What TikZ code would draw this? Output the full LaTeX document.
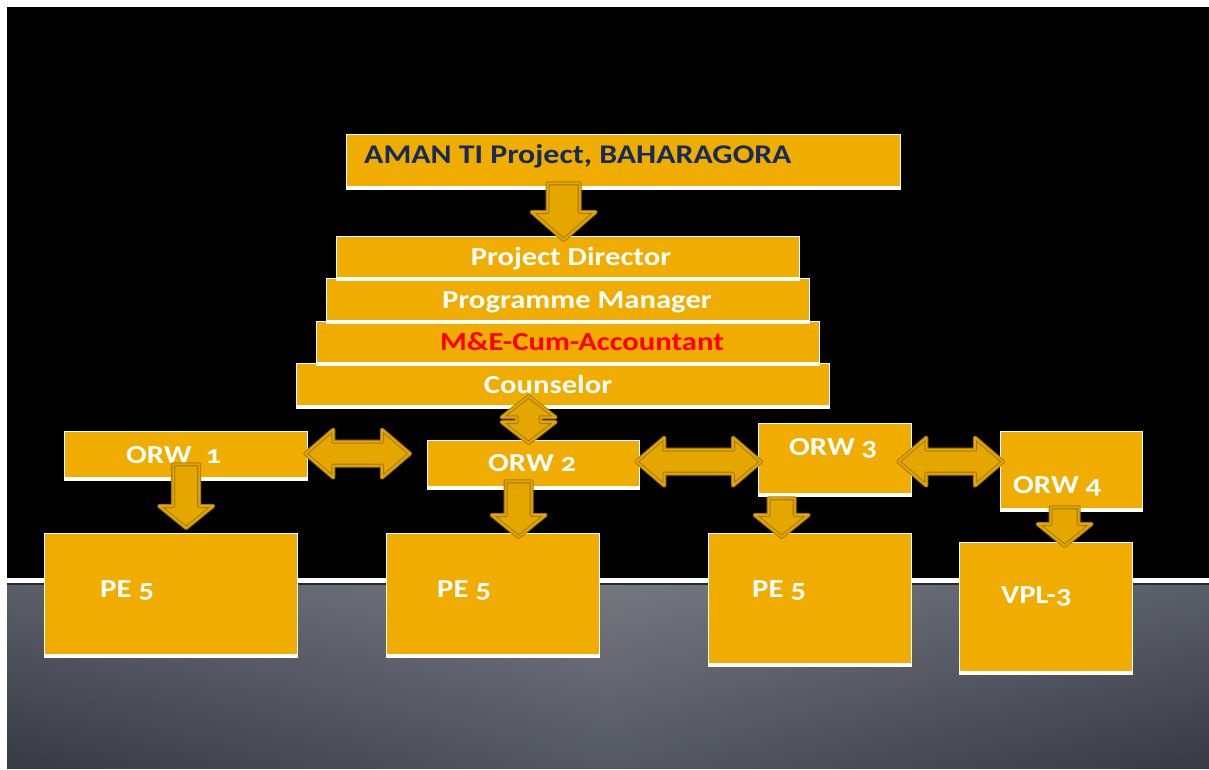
\documentclass[tikz,border=0pt]{standalone}
\usepackage{fontspec}
\setmainfont{Carlito}[FakeStretch=1.18, Numbers=OldStyle]
\usetikzlibrary{calc}
\definecolor{boxgold}{HTML}{F0AD00}
\definecolor{arrfill}{HTML}{E6A600}
\definecolor{arrline}{HTML}{A87E00}
\definecolor{navy}{HTML}{142B5C}
\definecolor{mered}{HTML}{FF0000}
\definecolor{gtm}{HTML}{74777F}
\definecolor{gte}{HTML}{5A5E69}
\definecolor{gbm}{HTML}{545864}
\definecolor{gbe}{HTML}{373A45}
\tikzset{
  box/.style={fill=boxgold, draw=white, line width=1.3pt, inner sep=0pt, anchor=north west},
  lbl/.style={font=\fontsize{26}{30}\selectfont\bfseries, text=white, inner sep=0pt},
  blockarrow/.style={fill=arrfill, draw=arrline, line width=1.1pt, double=arrfill, double distance=1.8pt, line join=round},
}
% down arrow: #1 top centre, #2 tip, #3 shaft half width, #4 head half width, #5 head length
\newcommand\blkdown[5]{%
  \draw[blockarrow] let \p1=#1, \p2=#2 in
  (\x1-#3,\y1) -- (\x1+#3,\y1) -- (\x1+#3,\y2+#5) -- (\x1+#4,\y2+#5) -- (\x1,\y2)
  -- (\x1-#4,\y2+#5) -- (\x1-#3,\y2+#5) -- cycle;}
% horizontal double arrow: #1 left tip, #2 right tip
\newcommand\blkhdouble[5]{%
  \draw[blockarrow] let \p1=#1, \p2=#2 in
  (\x1,\y1) -- (\x1+#5,\y1+#4) -- (\x1+#5,\y1+#3) -- (\x2-#5,\y1+#3) -- (\x2-#5,\y1+#4)
  -- (\x2,\y1) -- (\x2-#5,\y1-#4) -- (\x2-#5,\y1-#3) -- (\x1+#5,\y1-#3) -- (\x1+#5,\y1-#4) -- cycle;}
% vertical double arrow: #1 top tip, #2 bottom tip
\newcommand\blkvdouble[5]{%
  \draw[blockarrow] let \p1=#1, \p2=#2 in
  (\x1,\y1) -- (\x1+#4,\y1-#5) -- (\x1+#3,\y1-#5) -- (\x1+#3,\y2+#5) -- (\x1+#4,\y2+#5)
  -- (\x1,\y2) -- (\x1-#4,\y2+#5) -- (\x1-#3,\y2+#5) -- (\x1-#3,\y1-#5) -- (\x1-#4,\y1-#5) -- cycle;}
\begin{document}
\begin{tikzpicture}[x=1pt,y=-1pt]
\useasboundingbox (0,0) rectangle (1209,769);
% background
\fill[white] (0,0) rectangle (1209,769);
\fill[black] (7,7) rectangle (1209,578);
\begin{scope}
  \clip (7,583) rectangle (1209,768);
  \foreach \i in {0,...,37} {
    \pgfmathtruncatemacro\t{round(100*\i/37)}
    \colorlet{edgec}{gbe!\t!gte}
    \colorlet{midc}{gbm!\t!gtm}
    \shade[left color=edgec, right color=edgec, middle color=midc]
      (7,{583+5*\i}) rectangle (1209,{588.6+5*\i});
  }
\end{scope}
\fill[white] (7,578) rectangle (1209,583);
\fill[black!55!gte] (7,583) rectangle (1209,585);
% boxes
\node[box, minimum width=554pt, minimum height=52pt] (aman) at (346,134) {};
\node[box, minimum width=463pt, minimum height=41pt] (pd) at (336,236) {};
\node[box, minimum width=483pt, minimum height=42pt] (pm) at (326,278) {};
\node[box, minimum width=503pt, minimum height=41pt] (me) at (316,321) {};
\node[box, minimum width=533pt, minimum height=42pt] (co) at (296,363) {};
\node[box, minimum width=243pt, minimum height=46pt] (orw1) at (64,431) {};
\node[box, minimum width=212pt, minimum height=46pt] (orw2) at (427,440) {};
\node[box, minimum width=153pt, minimum height=70pt] (orw3) at (758,423) {};
\node[box, minimum width=142pt, minimum height=77pt] (orw4) at (1000,431) {};
\node[box, minimum width=253pt, minimum height=121pt] (pe1) at (44,533) {};
\node[box, minimum width=213pt, minimum height=121pt] (pe2) at (386,533) {};
\node[box, minimum width=203pt, minimum height=130pt] (pe3) at (708,533) {};
\node[box, minimum width=173pt, minimum height=129pt] (vpl) at (959,542) {};
\foreach \n in {aman,pd,pm,me,co,orw1,orw2,orw3,orw4,pe1,pe2,pe3,vpl}
  \draw[white, line width=3pt] ([yshift=-1pt]\n.south west) -- ([yshift=-1pt]\n.south east);
% texts
\node[lbl, text=navy, anchor=base west, font=\fontsize{27}{31}\selectfont\bfseries] (tA) at (364,163) {AMAN TI Project, BAHARAGORA};
\node[lbl, anchor=base] (tPD) at (571,265) {Project Director};
\node[lbl, anchor=base] (tPM) at (577,308) {Programme Manager};
\node[lbl, text=mered, anchor=base] (tME) at (582,350) {M\&E-Cum-Accountant};
\node[lbl, anchor=base] (tCO) at (548,393) {Counselor};
\node[lbl, anchor=base west] (tO1) at (126,463) {ORW\ \ 1};
\node[lbl, anchor=base west] (tO2) at (488,471) {ORW 2};
\node[lbl, anchor=base west] (tO3) at (789,455) {ORW 3};
\node[lbl, anchor=base west] (tO4) at (1013,493) {ORW 4};
\node[lbl, anchor=base west] (tP1) at (100,597) {PE 5};
\node[lbl, anchor=base west] (tP2) at (437,597) {PE 5};
\node[lbl, anchor=base west] (tP3) at (752,597) {PE 5};
\node[lbl, anchor=base west] (tV) at (1001,603) {VPL-3};
% connectors (block arrows)
\blkdown{([xshift=-60pt,yshift=4pt]aman.south)}{([yshift=-4pt]pd.north)}{16pt}{32pt}{28pt}
\blkvdouble{([xshift=-34.5pt,yshift=10pt]co.south)}{([yshift=-3pt]orw2.north)}{12pt}{27pt}{21pt}
\blkhdouble{([xshift=-3pt,yshift=1pt]orw1.east)}{([xshift=-17pt]orw2.west)}{12pt}{24pt}{28pt}
\blkhdouble{([xshift=-4pt,yshift=2pt]orw2.east)}{([xshift=3pt]orw3.west)}{12pt}{24pt}{28pt}
\blkhdouble{([xshift=-14pt,yshift=-3pt]orw3.east)}{([xshift=3pt]orw4.west)}{12pt}{24pt}{28pt}
\blkdown{([yshift=14pt]orw1.south)}{([yshift=5pt]pe1.north)}{13pt}{27pt}{22pt}
\blkdown{([xshift=-15pt,yshift=6pt]orw2.south)}{([yshift=-4pt]pe2.north)}{13pt}{27pt}{22pt}
\blkdown{([xshift=-53.5pt,yshift=-4pt]orw3.south)}{([yshift=-4pt]pe3.north)}{13pt}{27pt}{22pt}
\blkdown{([xshift=-7pt,yshift=2pt]orw4.south)}{([yshift=-4pt]vpl.north)}{14pt}{27pt}{22pt}
\end{tikzpicture}
\end{document}
